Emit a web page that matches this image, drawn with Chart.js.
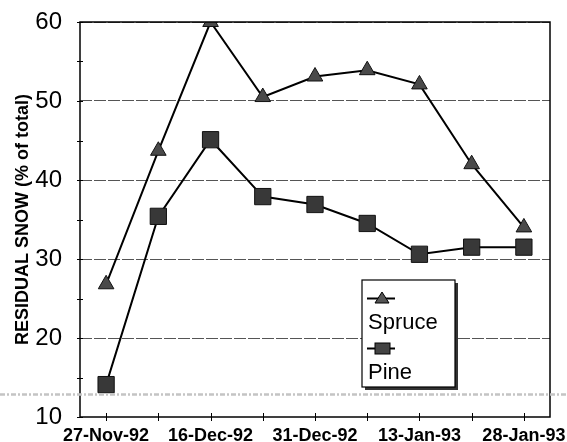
<!DOCTYPE html>
<html>
<head>
<meta charset="utf-8">
<script src="https://cdn.jsdelivr.net/npm/chart.js@4/dist/chart.umd.min.js"></script>
<style>
  html, body { margin: 0; padding: 0; background: #fff; }
  #wrap { width: 567px; height: 442px; }
</style>
</head>
<body>
<div id="wrap"><canvas id="snowChart" width="567" height="442"></canvas></div>
<script>
// sampling dates, only every other one is labelled on the axis
const dates = ['27-Nov-92', '', '16-Dec-92', '', '31-Dec-92', '', '13-Jan-93', '', '28-Jan-93'];
const spruce = [26.8, 43.7, 60.0, 50.5, 53.1, 53.9, 52.1, 42.0, 34.0];
const pine = [14.1, 35.4, 45.1, 37.9, 36.9, 34.5, 30.6, 31.5, 31.5];
const yMin = 10;
const yMax = 60;

const FONT = "'Liberation Sans', Arial, sans-serif";
const NONE = 'rgba(0,0,0,0)';

// frame + ticks that cross the axes
const frameTicks = {
    id: 'frameTicks',
    afterDatasetsDraw(chart) {
        const { ctx, chartArea: a, scales: { x, y } } = chart;
        ctx.save();
        ctx.strokeStyle = '#000';
        ctx.lineWidth = 1;
        ctx.beginPath();
        x.ticks.forEach((t, i) => {
            const px = Math.round(x.getPixelForTick(i)) + 0.5;
            ctx.moveTo(px, a.bottom - 4);
            ctx.lineTo(px, a.bottom + 4);
        });
        y.ticks.forEach((t, i) => {
            const py = Math.round(y.getPixelForTick(i)) + 0.5;
            ctx.moveTo(a.left - 3, py);
            ctx.lineTo(a.left + 3, py);
        });
        ctx.stroke();
        ctx.lineWidth = 1.5;
        ctx.strokeRect(a.left, a.top, a.right - a.left, a.bottom - a.top);
        ctx.restore();
    }
};

// boxed legend with shadow, marker above each label
const boxLegend = {
    id: 'boxLegend',
    afterDraw(chart) {
        const { ctx } = chart;
        const ds = chart.data.datasets;
        const bx = 362, by = 280, bw = 93, bh = 107;
        ctx.save();
        ctx.fillStyle = '#333';
        ctx.fillRect(bx + 3, by + 3, bw, bh);
        ctx.fillStyle = '#fff';
        ctx.fillRect(bx, by, bw, bh);
        ctx.strokeStyle = '#000';
        ctx.lineWidth = 1.2;
        ctx.strokeRect(bx, by, bw, bh);

        ctx.font = '22px ' + FONT;
        ctx.textBaseline = 'alphabetic';
        ctx.textAlign = 'left';

        // Spruce
        ctx.beginPath();
        ctx.moveTo(367, 298.5);
        ctx.lineTo(395, 298.5);
        ctx.lineWidth = 2;
        ctx.stroke();
        ctx.beginPath();
        ctx.moveTo(382, 292);
        ctx.lineTo(389, 303);
        ctx.lineTo(375, 303);
        ctx.closePath();
        ctx.fillStyle = '#555';
        ctx.fill();
        ctx.lineWidth = 1;
        ctx.stroke();
        ctx.fillStyle = '#000';
        ctx.fillText(ds[0].label, 368, 329);

        // Pine
        ctx.beginPath();
        ctx.moveTo(367, 348.5);
        ctx.lineTo(395, 348.5);
        ctx.lineWidth = 2;
        ctx.stroke();
        ctx.fillStyle = '#444';
        ctx.fillRect(375, 343, 15, 11);
        ctx.lineWidth = 1;
        ctx.strokeRect(375, 343, 15, 11);
        ctx.fillStyle = '#000';
        ctx.fillText(ds[1].label, 368, 379);

        // scan streak across the page
        ctx.strokeStyle = '#c4c4c4';
        ctx.lineWidth = 2.5;
        ctx.setLineDash([5, 2, 2, 2]);
        ctx.beginPath();
        ctx.moveTo(0, 394.5);
        ctx.lineTo(567, 394.5);
        ctx.stroke();
        ctx.restore();
    }
};

new Chart(document.getElementById('snowChart'), {
    type: 'line',
    data: {
        labels: dates,
        datasets: [{
            label: 'Spruce',
            data: spruce,
            borderColor: '#000',
            borderWidth: 2,
            tension: 0,
            pointStyle: 'triangle',
            pointRadius: 9,
            pointBackgroundColor: '#4a4a4a',
            pointBorderColor: '#111',
            pointBorderWidth: 1
        }, {
            label: 'Pine',
            data: pine,
            borderColor: '#000',
            borderWidth: 2,
            tension: 0,
            pointStyle: 'rect',
            pointRadius: 11.5,
            pointBackgroundColor: '#383838',
            pointBorderColor: '#111',
            pointBorderWidth: 1
        }]
    },
    options: {
        responsive: false,
        animation: false,
        layout: { padding: { top: 22, right: 17, left: 0, bottom: 0 } },
        plugins: {
            legend: { display: false },
            tooltip: { enabled: false }
        },
        scales: {
            x: {
                offset: true,
                // invisible tick marks are used as the label gap
                grid: { color: NONE, drawOnChartArea: false, drawTicks: true, tickLength: 8, tickColor: NONE },
                border: { display: false },
                ticks: {
                    autoSkip: false,
                    maxRotation: 0,
                    padding: 0,
                    color: '#000',
                    font: { family: FONT, size: 18, weight: 'bold' }
                },
                afterFit(scale) { scale.height = 25; }
            },
            y: {
                min: yMin,
                max: yMax,
                ticks: {
                    stepSize: 5,
                    padding: 0,
                    color: '#000',
                    font: { family: FONT, size: 24 },
                    callback: v => (v % 10 === 0 ? v : '')
                },
                grid: {
                    drawTicks: true,
                    tickLength: 18,
                    tickColor: NONE,
                    lineWidth: 1,
                    color: c => (c.tick && c.tick.value % 10 === 0 && c.tick.value > yMin ? '#555' : NONE)
                },
                border: { display: false, dash: [12, 2] },
                title: {
                    display: true,
                    text: 'RESIDUAL SNOW (% of total)',
                    color: '#000',
                    padding: { top: 12, bottom: 0 },
                    font: { family: FONT, size: 18, weight: 'bold' }
                },
                afterFit(scale) { scale.width = 80; }
            }
        }
    },
    plugins: [frameTicks, boxLegend]
});
</script>
</body>
</html>
